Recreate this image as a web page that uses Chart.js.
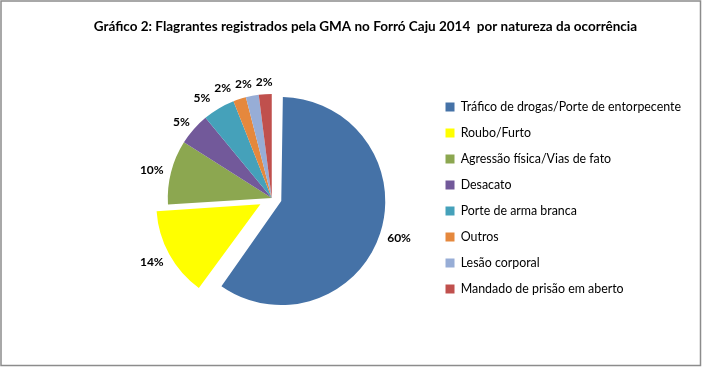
<!DOCTYPE html>
<html lang="pt-BR">
<head>
<meta charset="utf-8">
<title>Gráfico 2</title>
<script src="https://cdn.jsdelivr.net/npm/chart.js@4.4.1/dist/chart.umd.min.js"></script>
<style>
  html, body { margin: 0; padding: 0; background: #fff; }
  #box { width: 702px; height: 367px; position: relative; }
</style>
</head>
<body>
<div id="box"><canvas id="grafico"></canvas></div>
<script>
const titulo = 'Gráfico 2: Flagrantes registrados pela GMA no Forró Caju 2014  por natureza da ocorrência';

const categorias = [
    'Tráfico de drogas/Porte de entorpecente',
    'Roubo/Furto',
    'Agressão física/Vias de fato',
    'Desacato',
    'Porte de arma branca',
    'Outros',
    'Lesão corporal',
    'Mandado de prisão em aberto'
];

const percentuais = [60, 14, 10, 5, 5, 2, 2, 2];

const cores = ['#4572A7', '#FFFF00', '#8CA750', '#72599A', '#45A1BA', '#E5883D', '#97ADD6', '#C0504D'];

const fonte = 'Lato, "Liberation Sans", sans-serif';

// moldura cinza, fundo branco e titulo
const moldura = {
    id: 'moldura',
    beforeDraw(chart) {
        const c = chart.ctx;
        c.save();
        c.fillStyle = '#fff';
        c.fillRect(0, 0, chart.width, chart.height);
        c.strokeStyle = '#8c8c8c';
        c.lineWidth = 1.5;
        c.strokeRect(1, 1, chart.width - 2.5, chart.height - 2.5);
        c.fillStyle = '#000';
        c.font = 'bold 13.5px ' + fonte;
        c.textAlign = 'center';
        c.textBaseline = 'middle';
        c.fillText(titulo, 365.5, 27);
        c.restore();
    }
};

// o chart.js aumenta o raio da fatia destacada; aqui so desloca
const semAumento = {
    id: 'semAumento',
    beforeDatasetsDraw(chart) {
        const meta = chart.getDatasetMeta(0);
        const base = meta.controller.outerRadius;
        meta.data.forEach(arc => {
            const off = arc.options.offset || 0;
            const fix = 1 - Math.sin(Math.min(Math.PI, arc.circumference || 0));
            arc.outerRadius = base - (off / 4) * fix;
        });
    }
};

// rotulos de porcentagem fora da pizza
const rotulos = {
    id: 'rotulos',
    afterDatasetsDraw(chart) {
        const c = chart.ctx;
        const meta = chart.getDatasetMeta(0);
        const r = meta.controller.outerRadius;
        c.save();
        c.font = 'bold 12px ' + fonte;
        c.fillStyle = '#000';
        c.textAlign = 'center';
        c.textBaseline = 'middle';
        const h = 10;
        const pos = meta.data.map((arc, i) => {
            const txt = percentuais[i] + '%';
            const w = c.measureText(txt).width;
            const mid = (arc.startAngle + arc.endAngle) / 2;
            const dx = Math.cos(mid), dy = Math.sin(mid);
            const s = (arc.options.offset || 0) / 4;
            const cx = arc.x + dx * s, cy = arc.y + dy * s;
            return {
                txt, w, dx,
                x: cx + dx * (r + 8) + dx * w / 2,
                y: cy + dy * (r + 8) + dy * h / 2
            };
        });
        // empurra para a esquerda os rotulos pequenos que se sobrepoem
        for (let i = pos.length - 2; i >= 0; i--) {
            const a = pos[i], b = pos[i + 1];
            if (a.dx >= 0 || b.dx >= 0) continue;
            const minX = (a.w + b.w) / 2 + 4;
            if (Math.abs(a.y - b.y) < h + 2 && b.x - a.x < minX) {
                a.x = b.x - minX;
            }
        }
        pos.forEach(p => c.fillText(p.txt, p.x, p.y + 1));
        c.restore();
    }
};

new Chart(document.getElementById('grafico'), {
    type: 'pie',
    data: {
        labels: categorias,
        datasets: [{
            data: percentuais,
            backgroundColor: cores,
            borderWidth: 0,
            hoverOffset: 0,
            offset: [40, 52, 0, 0, 0, 0, 0, 0]
        }]
    },
    options: {
        responsive: true,
        maintainAspectRatio: false,
        animation: false,
        events: [],
        layout: {
            padding: { left: 111.6, right: 11, top: 68, bottom: 39 }
        },
        plugins: {
            title: { display: false },
            legend: {
                position: 'right',
                align: 'center',
                fullSize: false,
                labels: {
                    color: '#000',
                    boxWidth: 9,
                    boxHeight: 9,
                    padding: 13.6,
                    font: { family: fonte, size: 12.4 }
                }
            },
            tooltip: { enabled: false }
        }
    },
    plugins: [moldura, semAumento, rotulos]
});
</script>
</body>
</html>
